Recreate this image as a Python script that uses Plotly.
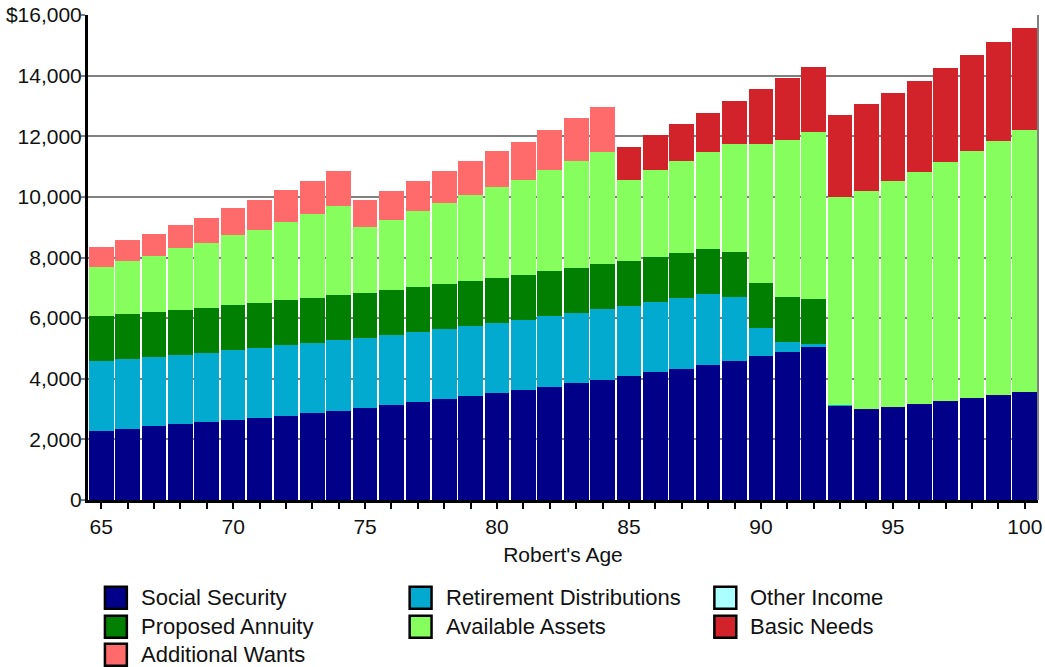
import plotly.graph_objects as go

# Yearly income sources and spending needs, ages 65-100
ages = [65, 66, 67, 68, 69, 70, 71, 72, 73, 74, 75, 76, 77, 78, 79, 80, 81, 82,
        83, 84, 85, 86, 87, 88, 89, 90, 91, 92, 93, 94, 95, 96, 97, 98, 99, 100]

social_security = [2262, 2328, 2426, 2492, 2557, 2623, 2721, 2787, 2885, 2951,
                   3049, 3148, 3246, 3344, 3443, 3541, 3639, 3738, 3869, 3967,
                   4098, 4230, 4328, 4459, 4590, 4754, 4885, 5049, 3115, 3016,
                   3082, 3180, 3279, 3377, 3475, 3574]
retirement_distributions = [2328, 2328, 2295, 2295, 2295, 2328, 2295, 2328, 2295, 2328,
                            2295, 2295, 2295, 2295, 2295, 2295, 2295, 2328, 2295, 2328,
                            2295, 2295, 2328, 2328, 2099, 918, 328, 99, 33, 0,
                            0, 0, 0, 0, 0, 0]
other_income = [0, 0, 0, 0, 0, 0, 0, 0, 0, 0, 0, 0, 0, 0, 0, 0, 0, 0,
                0, 0, 0, 0, 0, 0, 0, 0, 0, 0, 0, 0, 0, 0, 0, 0, 0, 0]
proposed_annuity = [1480, 1480, 1480, 1480, 1480, 1480, 1480, 1480, 1480, 1480,
                    1480, 1480, 1480, 1480, 1480, 1480, 1480, 1480, 1480, 1480,
                    1480, 1480, 1480, 1480, 1480, 1480, 1480, 1480, 0, 0,
                    0, 0, 0, 0, 0, 0]
available_assets = [1606, 1738, 1836, 2033, 2131, 2295, 2426, 2590, 2787, 2951,
                    2197, 2328, 2525, 2688, 2853, 3017, 3147, 3344, 3541, 3705,
                    2688, 2885, 3049, 3213, 3574, 4590, 5181, 5508, 6852, 7181,
                    7443, 7640, 7869, 8131, 8361, 8623]
additional_wants = [656, 688, 754, 787, 852, 918, 983, 1050, 1082, 1147,
                    885, 951, 984, 1049, 1114, 1180, 1246, 1312, 1410, 1476,
                    0, 0, 0, 0, 0, 0, 0, 0, 0, 0, 0, 0, 0, 0, 0, 0]
basic_needs = [0, 0, 0, 0, 0, 0, 0, 0, 0, 0, 0, 0, 0, 0, 0, 0, 0, 0, 0, 0,
               1082, 1148, 1213, 1279, 1410, 1803, 2032, 2164, 2689, 2852,
               2918, 3016, 3114, 3181, 3279, 3377]

y_ticks = [0, 2000, 4000, 6000, 8000, 10000, 12000, 14000, 16000]
y_tick_text = ["0", "2,000", "4,000", "6,000", "8,000", "10,000", "12,000", "14,000", "$16,000"]
x_ticks = [65, 70, 75, 80, 85, 90, 95, 100]

series = [
    ("Social Security", social_security, "#000088"),
    ("Retirement Distributions", retirement_distributions, "#03AAD0"),
    ("Other Income", other_income, "#AAFFFF"),
    ("Proposed Annuity", proposed_annuity, "#007F00"),
    ("Available Assets", available_assets, "#86FF5E"),
    ("Additional Wants", additional_wants, "#FF6B6B"),
    ("Basic Needs", basic_needs, "#D2232A"),
]

FONT = "Liberation Sans, Arial, sans-serif"
W, H = 1045, 667
ML, MR, MT, MB = 88, 3, 14, 167
PW, PH = W - ML - MR, H - MT - MB

fig = go.Figure()
for name, vals, color in series:
    fig.add_trace(go.Bar(x=ages, y=vals, name=name, marker=dict(color=color, line=dict(width=0)),
                         showlegend=False))


def px_x(px):
    return (px - ML) / PW


def px_y(py):
    return (H - MB - py) / PH


# Hand-placed legend: three columns of swatches with labels
legend_layout = [
    ("Social Security", "#000088", 104, 598),
    ("Retirement Distributions", "#03AAD0", 410, 598),
    ("Other Income", "#AAFFFF", 716, 598),
    ("Proposed Annuity", "#007F00", 104, 627),
    ("Available Assets", "#86FF5E", 410, 627),
    ("Basic Needs", "#D2232A", 716, 627),
    ("Additional Wants", "#FF6B6B", 104, 655),
]
shapes = []
annotations = []
for label, color, lx, ly in legend_layout:
    shapes.append(dict(type="rect", xref="paper", yref="paper",
                       x0=px_x(lx + 1), x1=px_x(lx + 23), y0=px_y(ly - 11), y1=px_y(ly + 11),
                       fillcolor=color, line=dict(color="black", width=2.5)))
    annotations.append(dict(xref="paper", yref="paper", x=px_x(lx + 35), y=px_y(ly),
                            text=label, showarrow=False, xanchor="left", yanchor="middle",
                            font=dict(family=FONT, size=22, color="#111111")))

# Right-hand frame line
shapes.append(dict(type="line", xref="paper", yref="paper", x0=1, x1=1, y0=0, y1=1,
                   line=dict(color="#808080", width=2)))

fig.update_layout(
    width=W, height=H,
    margin=dict(l=ML, r=MR, t=MT, b=MB),
    barmode="stack",
    bargap=0.065,
    plot_bgcolor="white",
    paper_bgcolor="white",
    font=dict(family=FONT, size=21, color="#111111"),
    shapes=shapes,
    annotations=annotations,
    xaxis=dict(
        range=[64.5, 100.5],
        tickvals=x_ticks,
        ticks="outside", ticklen=6, tickwidth=2, tickcolor="black",
        minor=dict(dtick=1, tick0=65, ticks="outside", ticklen=6, tickwidth=2, tickcolor="black"),
        showline=True, linecolor="black", linewidth=3,
        showgrid=False, zeroline=False,
        ticklabeloverflow="allow",
        tickfont=dict(family=FONT, size=21, color="#111111"),
        title=dict(text="Robert's Age", font=dict(family=FONT, size=21, color="#111111"), standoff=11),
    ),
    yaxis=dict(
        range=[0, 16000],
        tickvals=y_ticks, ticktext=y_tick_text,
        ticks="outside", ticklen=4, tickwidth=2, tickcolor="#808080",
        showline=True, linecolor="black", linewidth=3,
        showgrid=True, gridcolor="#808080", gridwidth=2,
        zeroline=False,
        ticklabelstandoff=-5,
        tickfont=dict(family=FONT, size=21, color="#111111"),
    ),
)

fig.write_html("out.html")
